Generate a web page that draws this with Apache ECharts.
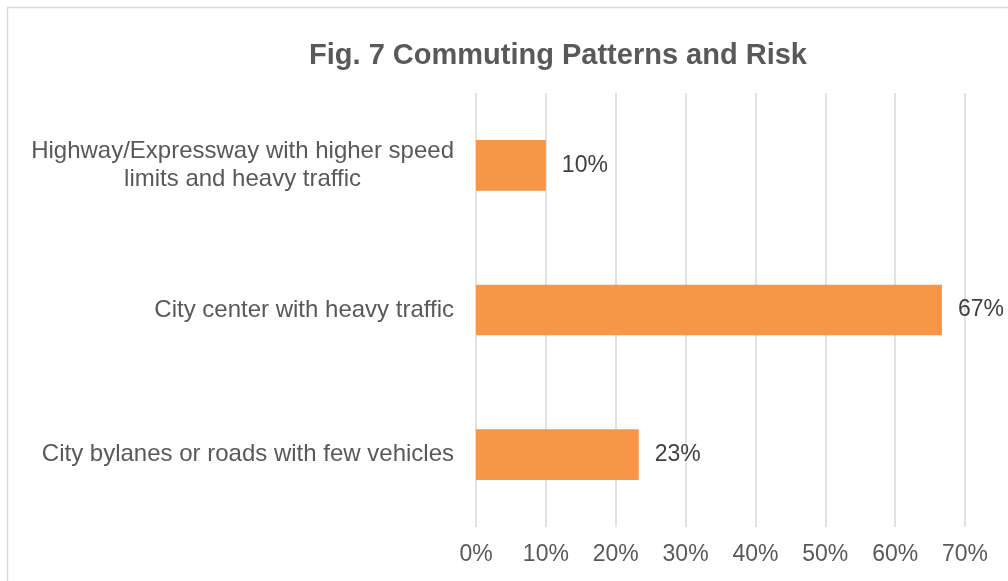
<!DOCTYPE html>
<html>
<head>
<meta charset="utf-8">
<script src="https://cdn.jsdelivr.net/npm/echarts@6/dist/echarts.min.js"></script>
<style>
  html, body { margin: 0; padding: 0; background: #ffffff; }
  #chart { width: 1008px; height: 581px; }
</style>
</head>
<body>
<div id="chart"></div>
<script>
const categories = [
  "Highway/Expressway with higher speed\nlimits and heavy traffic",
  "City center with heavy traffic",
  "City bylanes or roads with few vehicles"
];
const values = [0.10, 0.667, 0.233];
const tickValues = { min: 0, max: 0.7, step: 0.1 };
const titleText = "Fig. 7 Commuting Patterns and Risk";

const FONT = '"Liberation Sans", Arial, sans-serif';
const chart = echarts.init(document.getElementById('chart'), null, { renderer: 'canvas' });

chart.setOption({
  backgroundColor: '#ffffff',
  animation: false,
  title: {
    text: titleText,
    left: 553,
    textAlign: 'center',
    top: 36,
    textStyle: { fontFamily: FONT, fontSize: 29, fontWeight: 'bold', color: '#595959' }
  },
  graphic: [{
    type: 'rect',
    shape: { x: 7.5, y: 7.5, width: 1100, height: 700 },
    style: { fill: 'none', stroke: '#D9D9D9', lineWidth: 1.5 },
    silent: true
  }],
  grid: { left: 476, right: 43, top: 93, bottom: 54, containLabel: false },
  xAxis: {
    type: 'value',
    min: tickValues.min,
    max: tickValues.max,
    interval: tickValues.step,
    axisLine: { show: false },
    axisTick: { show: false },
    splitLine: { show: true, lineStyle: { color: '#D9D9D9', width: 1.5 } },
    axisLabel: {
      margin: 16,
      fontFamily: FONT, fontSize: 23, color: '#595959',
      formatter: v => Math.round(v * 100) + '%'
    }
  },
  yAxis: {
    type: 'category',
    inverse: true,
    data: categories,
    axisLine: { show: false },
    axisTick: { show: false },
    axisLabel: {
      margin: 22,
      fontFamily: FONT, fontSize: 24, color: '#595959',
      lineHeight: 28,
      formatter: v => v.split('\n').map(s => '{c|' + s + '}').join('\n'),
      rich: { c: { align: 'center', fontFamily: FONT, fontSize: 24, color: '#595959', lineHeight: 28 } }
    }
  },
  series: [{
    type: 'bar',
    data: values,
    barWidth: '35%',
    itemStyle: { color: '#F79646' },
    label: {
      show: true, position: 'right', distance: 16,
      fontFamily: FONT, fontSize: 23, color: '#404040',
      formatter: p => Math.round(p.value * 100) + '%'
    }
  }]
});
</script>
</body>
</html>
